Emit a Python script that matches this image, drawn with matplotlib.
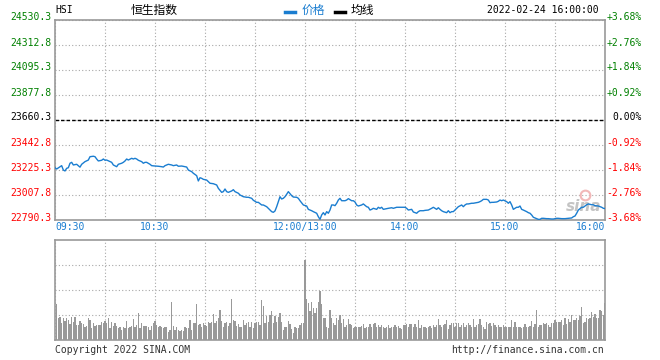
import matplotlib
matplotlib.use('Agg')
import matplotlib.pyplot as plt
from matplotlib.lines import Line2D
from matplotlib.transforms import offset_copy
import numpy as np

plt.rcParams['font.family'] = ['DejaVu Sans Mono', 'Noto Sans CJK SC']

# ---- data (trading minutes from 09:30, lunch break removed) ----
prev_close = 23660.3
step = 217.5

minutes = [0, 1, 3, 4, 5, 6, 7, 8, 9, 10, 11, 13, 15, 16, 18, 20, 21, 23, 24, 25,
           26, 28, 29, 30, 31, 33, 34, 35, 37, 38, 40, 41, 42, 43, 44, 46, 47, 48, 49, 50,
           52, 53, 54, 55, 57, 58, 60, 62, 64, 65, 66, 68, 70, 71, 73, 74, 76, 79, 80, 82,
           83, 85, 86, 87, 88, 89, 91, 93, 95, 97, 98, 100, 101, 102, 103, 104, 106, 107, 108, 110,
           111, 113, 115, 116, 118, 119, 121, 122, 124, 125, 127, 128, 129, 130, 131, 132, 133, 134, 135, 136,
           137, 138, 139, 140, 142, 143, 145, 146, 147, 149, 151, 152, 154, 155, 157, 158, 159, 160, 161, 162,
           163, 164, 165, 166, 167, 168, 169, 170, 171, 172, 174, 175, 176, 178, 179, 180, 181, 182, 184, 185,
           187, 188, 189, 190, 191, 193, 194, 195, 196, 197, 199, 200, 202, 203, 205, 206, 208, 209, 210, 211,
           212, 214, 215, 217, 218, 219, 221, 222, 224, 226, 227, 229, 230, 231, 232, 233, 235, 236, 237, 238,
           239, 240, 241, 242, 244, 245, 246, 247, 248, 250, 251, 253, 254, 255, 256, 257, 259, 260, 261, 262,
           263, 265, 266, 267, 268, 269, 271, 272, 273, 274, 275, 276, 277, 278, 279, 280, 281, 283, 284, 285,
           286, 287, 289, 290, 291, 292, 293, 295, 296, 298, 299, 301, 302, 304, 306, 308, 310, 311, 312, 313,
           314, 316, 317, 318, 319, 320, 322, 323, 324, 326, 327, 328, 329, 330]

prices = [23245, 23234, 23254, 23263, 23225, 23217, 23240, 23245, 23284, 23292, 23269, 23275, 23250, 23275, 23298, 23312, 23341, 23345, 23341, 23321,
          23304, 23310, 23321, 23310, 23312, 23298, 23292, 23269, 23254, 23275, 23284, 23292, 23304, 23321, 23312, 23327, 23321, 23327, 23321, 23310,
          23298, 23284, 23292, 23292, 23275, 23263, 23260, 23258, 23254, 23251, 23263, 23275, 23269, 23263, 23269, 23258, 23260, 23251, 23225, 23211,
          23197, 23176, 23130, 23158, 23153, 23144, 23138, 23110, 23106, 23095, 23066, 23031, 23037, 23060, 23037, 23031, 23043, 23054, 23037, 23023,
          23008, 22993, 22988, 22988, 22979, 22962, 22944, 22944, 22921, 22921, 22906, 22892, 22877, 22863, 22857, 22869, 22906, 22950, 22993, 22973,
          22979, 22993, 23014, 23037, 23002, 22990, 22988, 22979, 22958, 22921, 22912, 22883, 22871, 22863, 22849, 22819, 22796, 22834, 22854, 22834,
          22863, 22849, 22877, 22921, 22921, 22915, 22936, 22964, 22979, 22958, 22958, 22964, 22976, 22958, 22958, 22947, 22921, 22912, 22921, 22930,
          22906, 22901, 22877, 22883, 22892, 22883, 22901, 22892, 22901, 22883, 22889, 22892, 22897, 22892, 22901, 22901, 22901, 22901, 22901, 22892,
          22877, 22883, 22860, 22849, 22863, 22871, 22871, 22874, 22877, 22892, 22901, 22883, 22897, 22883, 22871, 22863, 22854, 22871, 22854, 22863,
          22863, 22877, 22892, 22906, 22921, 22906, 22921, 22930, 22930, 22936, 22936, 22941, 22944, 22950, 22958, 22970, 22970, 22964, 22941, 22944,
          22944, 22947, 22953, 22964, 22958, 22964, 22950, 22936, 22950, 22921, 22883, 22892, 22901, 22901, 22912, 22883, 22877, 22863, 22854, 22849,
          22834, 22814, 22802, 22796, 22796, 22805, 22805, 22802, 22802, 22799, 22799, 22805, 22805, 22802, 22802, 22805, 22808, 22819, 22825, 22849,
          22877, 22901, 22901, 22912, 22923, 22930, 22923, 22923, 22915, 22912, 22906, 22901, 22892, 22890]

# volume per minute (relative units, panel top = 100), minutes 1..330
vol = [
    # 09:31-10:00
    36, 22, 23, 17, 22, 19, 22, 20, 16, 23, 18, 23, 15, 15, 19, 17, 16, 13, 14, 22, 20, 12, 17, 14, 15, 15, 15, 18, 17,
    # 10:01-10:30
    19, 17, 22, 12, 18, 14, 17, 14, 12, 13, 10, 13, 12, 19, 12, 13, 14, 21, 13, 15, 27, 12, 17, 14, 14, 14, 13, 10, 14, 17,
    # 10:31-11:00
    19, 15, 13, 14, 13, 12, 13, 13, 8, 10, 38, 14, 10, 13, 10, 9, 10, 9, 13, 12, 12, 20, 10, 17, 17, 36, 15, 16, 13, 17,
    # 11:01-11:30
    15, 14, 18, 17, 18, 26, 17, 19, 22, 30, 19, 13, 17, 18, 14, 17, 41, 20, 19, 14, 16, 13, 13, 20, 15, 17, 18, 13, 18, 12,
    # 11:31-12:00
    17, 18, 18, 15, 40, 34, 17, 24, 18, 25, 29, 17, 24, 18, 23, 27, 18, 10, 13, 13, 19, 16, 11, 7, 13, 12, 12, 15, 17, 17,
    # 13:01-13:15
    80, 41, 37, 29, 38, 32, 27, 32, 38, 49, 36, 22, 22, 13, 12,
    # 13:16-16:00
    30, 22, 17, 15, 22, 20, 25, 17, 21, 13, 15, 21, 16, 15, 12, 13, 13, 13, 13, 14, 16, 12, 13, 13, 16, 13, 16, 17, 13, 15,
    13, 15, 13, 12, 13, 15, 12, 13, 13, 15, 13, 14, 12, 11, 15, 15, 16, 13, 16, 16, 13, 16, 13, 20, 12, 15, 13, 13, 12, 13,
    14, 12, 15, 13, 15, 21, 15, 13, 15, 16, 20, 11, 15, 17, 17, 13, 17, 17, 13, 15, 17, 13, 15, 17, 15, 13, 21, 13, 15, 16,
    21, 15, 13, 11, 18, 16, 17, 14, 17, 15, 13, 15, 13, 13, 15, 13, 13, 13, 13, 20, 13, 18, 13, 13, 13, 12, 13, 16, 13, 13,
    14, 19, 13, 16, 30, 13, 15, 15, 17, 16, 17, 15, 13, 17, 17, 20, 18, 18, 18, 20, 15, 22, 16, 21, 18, 25, 20, 20, 22, 20,
    24, 33, 17, 18, 22, 21, 22, 28, 23, 26, 22, 22, 30, 29, 25, 37,
]
vol_minutes = np.arange(1, len(vol) + 1)

time_ticks = [0, 60, 150, 210, 270, 330]
time_labels = ['09:30', '10:30', '12:00/13:00', '14:00', '15:00', '16:00']
time_align = ['left', 'center', 'center', 'center', 'center', 'right']

BLUE = '#1a7dd0'
GREEN = '#008000'
RED = '#ff0000'
GRID = '#a8a8a8'
FRAME = '#999999'

W, H = 660, 360
fig = plt.figure(figsize=(W / 100, H / 100), dpi=100)


def fx(x):
    return x / W


def fy(y):
    return 1 - y / H


ax = fig.add_axes([fx(55), fy(220), 550 / W, 200 / H])
axv = fig.add_axes([fx(55), fy(340), 550 / W, 100 / H])

for a in (ax, axv):
    a.set_xlim(0, 330)
    a.set_xticks(range(0, 331, 30))
    a.grid(True, color=GRID, ls=(0, (1, 2)), lw=0.8)
    a.tick_params(length=0, labelleft=False, labelbottom=False)
    for s in a.spines.values():
        s.set_color(FRAME)
        s.set_linewidth(1.2)
    a.set_axisbelow(True)

# price panel
levels = prev_close + step * np.arange(-4, 5)
ax.set_ylim(levels[0], levels[-1])
ax.set_yticks(levels)
ax.plot(minutes, prices, color=BLUE, lw=1.0, zorder=3)
ax.axhline(prev_close, color='black', ls=(0, (2.5, 1.5)), lw=1.0, zorder=2)

# sina watermark (behind the line)
ax.text(317, 22905, 'sina', color='#c4c4c4', fontsize=11, fontweight='bold',
        style='italic', family='DejaVu Sans', ha='center', va='center', zorder=1)
ax.plot([318], [23010], marker='o', ms=7, mfc='none', mec='#f2b8b8', mew=1.5, zorder=1)

tl = offset_copy(ax.get_yaxis_transform(), fig=fig, x=0, y=2.5, units='dots')
pct_x = (642 - 55) / 550
for v in levels:
    pct = (v - prev_close) / prev_close * 100
    if abs(pct) < 1e-6:
        c = 'black'
        ptxt = '0.00%'
    elif pct > 0:
        c = GREEN
        ptxt = '+%.2f%%' % pct
    else:
        c = RED
        ptxt = '%.2f%%' % pct
    ax.text(-0.006, v, '%.1f' % v, transform=tl, ha='right', va='center',
            fontsize=7, color=c)
    ax.text(pct_x, v, ptxt, transform=tl, ha='right', va='center',
            fontsize=7, color=c)

for m, lbl, al in zip(time_ticks, time_labels, time_align):
    ax.text(m, -0.035, lbl, transform=ax.get_xaxis_transform(), ha=al,
            va='center', fontsize=7, color=BLUE)

# volume panel
axv.set_ylim(0, 100)
axv.set_yticks([25, 50, 75])
axv.bar(vol_minutes, vol, width=0.65, color='#999999', antialiased=False, zorder=3)

# header
fig.text(fx(55), fy(10), 'HSI', ha='left', va='center', fontsize=7)
fig.text(fx(154), fy(10), '恒生指数', ha='center', va='center', fontsize=8.5,
         family=['Noto Sans CJK SC'])
fig.add_artist(Line2D([fx(285), fx(295)], [fy(11.5)] * 2, color=BLUE, lw=2.5))
fig.text(fx(302), fy(10), '价格', ha='left', va='center', fontsize=8.5,
         color=BLUE, family=['Noto Sans CJK SC'])
fig.add_artist(Line2D([fx(335), fx(345)], [fy(11.5)] * 2, color='black', lw=2.5))
fig.text(fx(351), fy(10), '均线', ha='left', va='center', fontsize=8.5,
         color='black', family=['Noto Sans CJK SC'])
fig.text(fx(487), fy(10), '2022-02-24 16:00:00', ha='left', va='center', fontsize=7)

# footer
fig.text(fx(55), fy(350), 'Copyright 2022 SINA.COM', ha='left', va='center',
         fontsize=7, color='#333333')
fig.text(fx(604), fy(350), 'http://finance.sina.com.cn', ha='right', va='center',
         fontsize=7, color='#333333')

fig.savefig('out.png', dpi=100)
